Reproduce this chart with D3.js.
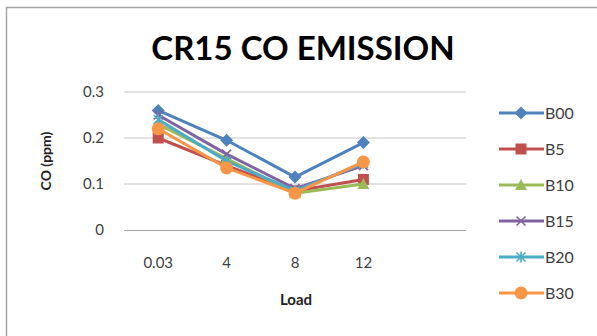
<!DOCTYPE html>
<html>
<head>
<meta charset="utf-8">
<script src="https://cdn.jsdelivr.net/npm/d3@7"></script>
<style>
  html, body { margin: 0; padding: 0; background: #fff; }
  svg { display: block; font-family: Lato, "Open Sans", sans-serif; }
</style>
</head>
<body>
<svg id="chart" width="597" height="336"></svg>
<script>
// Load points on the category axis
const categories = ["0.03", "4", "8", "12"];
// CO emission (ppm) per blend
const seriesNames = ["B00", "B5", "B10", "B15", "B20", "B30"];
const b00 = [0.26, 0.195, 0.115, 0.19];
const b5  = [0.20, 0.14, 0.085, 0.11];
const b10 = [0.23, 0.155, 0.08, 0.10];
const b15 = [0.25, 0.165, 0.09, 0.14];
const b20 = [0.24, 0.15, 0.085, 0.145];
const b30 = [0.22, 0.135, 0.08, 0.148];
const yTicks = [0, 0.1, 0.2, 0.3];

const colors = ["#4F81BD", "#C0504D", "#9BBB59", "#8064A2", "#4BACC6", "#F79646"];
const shapes = ["diamond", "square", "triangle", "x", "star", "circle"];
const series = [b00, b5, b10, b15, b20, b30].map((v, i) => ({
  name: seriesNames[i], values: v, color: colors[i], shape: shapes[i]
}));

const svg = d3.select("#chart");

// chart frame
svg.append("rect")
  .attr("x", 6.5).attr("y", 7.5).attr("width", 640).attr("height", 400)
  .attr("fill", "#fff").attr("stroke", "#a6a6a6").attr("stroke-width", 1.5);

const plot = { left: 124, top: 92, bottom: 230, right: 466 };

// an empty fifth slot keeps the category spacing used on this axis
const x = d3.scaleBand()
  .domain([...categories, ""])
  .range([plot.left, plot.right]);
const y = d3.scaleLinear().domain([0, 0.3]).range([plot.bottom, plot.top]);

// horizontal gridlines
svg.append("g").selectAll("line").data(yTicks.filter(d => d > 0)).join("line")
  .attr("x1", plot.left).attr("x2", plot.right)
  .attr("y1", d => y(d)).attr("y2", d => y(d))
  .attr("stroke", "#c6c6c6").attr("stroke-width", 1);

// y axis
const yAxis = svg.append("g")
  .attr("transform", `translate(${plot.left},0)`)
  .call(d3.axisLeft(y).tickValues(yTicks).tickFormat(d => d === 0 ? "0" : d3.format(".1f")(d)).tickSize(0).tickPadding(20));
yAxis.select(".domain").remove();
yAxis.selectAll("text").attr("font-size", 15).attr("fill", "#404040")
  .attr("font-family", "Lato, sans-serif");

// x axis
const xAxis = svg.append("g")
  .attr("transform", `translate(0,${plot.bottom})`)
  .call(d3.axisBottom(x).tickValues(categories).tickSize(0).tickPadding(27));
xAxis.select(".domain").attr("stroke", "#a6a6a6").attr("d", `M${plot.left},0.5H${plot.right}`);
xAxis.selectAll("text").attr("font-size", 15).attr("fill", "#404040")
  .attr("font-family", "Lato, sans-serif");

const cx = c => x(c) + x.bandwidth() / 2;

// title
svg.append("text")
  .attr("x", 303).attr("y", 60).attr("text-anchor", "middle")
  .attr("font-size", 33).attr("font-weight", "bold").attr("fill", "#000")
  .text("CR15 CO EMISSION");

// axis titles
svg.append("text")
  .attr("transform", "translate(51,161) rotate(-90)")
  .attr("text-anchor", "middle").attr("font-size", 14).attr("font-weight", "bold")
  .attr("fill", "#222").text("CO (ppm)");
svg.append("text")
  .attr("x", 296).attr("y", 305).attr("text-anchor", "middle")
  .attr("font-size", 15).attr("font-weight", "bold").attr("fill", "#222")
  .text("Load");

function drawMarker(g, shape, color) {
  if (shape === "diamond") {
    g.append("path").attr("d", "M0,-6.5L6.5,0L0,6.5L-6.5,0Z").attr("fill", color);
  } else if (shape === "square") {
    g.append("rect").attr("x", -5.5).attr("y", -5.5).attr("width", 11).attr("height", 11).attr("fill", color);
  } else if (shape === "triangle") {
    g.append("path").attr("d", "M0,-6L6,5L-6,5Z").attr("fill", color);
  } else if (shape === "x") {
    g.append("path").attr("d", "M-4.5,-4.5L4.5,4.5M-4.5,4.5L4.5,-4.5")
      .attr("stroke", color).attr("stroke-width", 1.6);
  } else if (shape === "star") {
    g.append("path").attr("d", "M-4.5,-4.5L4.5,4.5M-4.5,4.5L4.5,-4.5M0,-5.5L0,5.5")
      .attr("stroke", color).attr("stroke-width", 1.6);
  } else {
    g.append("circle").attr("r", 6.5).attr("fill", color);
  }
}

const line = d3.line().x((d, i) => cx(categories[i])).y(d => y(d));

series.forEach(s => {
  svg.append("path").datum(s.values)
    .attr("d", line).attr("fill", "none")
    .attr("stroke", s.color).attr("stroke-width", 3).attr("stroke-linejoin", "round");
  s.values.forEach((v, i) => {
    const g = svg.append("g").attr("transform", `translate(${cx(categories[i])},${y(v)})`);
    drawMarker(g, s.shape, s.color);
  });
});

// legend
const legend = svg.append("g");
series.forEach((s, i) => {
  const ly = 113 + i * 36;
  legend.append("line").attr("x1", 499).attr("x2", 544).attr("y1", ly).attr("y2", ly)
    .attr("stroke", s.color).attr("stroke-width", 3);
  drawMarker(legend.append("g").attr("transform", `translate(521,${ly})`), s.shape, s.color);
  legend.append("text").attr("x", 545).attr("y", ly + 6)
    .attr("font-size", 16).attr("fill", "#404040").text(s.name);
});
</script>
</body>
</html>
